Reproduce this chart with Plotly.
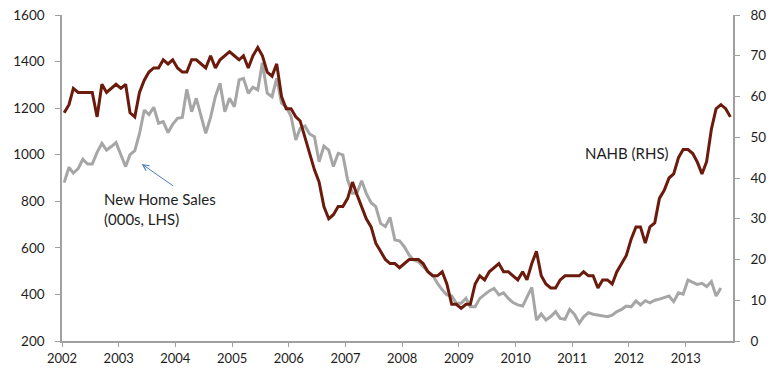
import pandas as pd
import plotly.graph_objects as go

# NAHB housing market index (right axis), monthly Jan 2002 - Oct 2013
nahb = [
    56, 58, 62, 61, 61, 61, 61, 55, 63, 61, 62, 63,   # 2002
    62, 63, 56, 55, 61, 64, 66, 67, 67, 69, 68, 69,   # 2003
    67, 66, 66, 69, 69, 68, 67, 70, 67, 69, 70, 71,   # 2004
    70, 69, 70, 67, 70, 72, 70, 66, 65, 68, 60, 57,   # 2005
    57, 55, 54, 50, 46, 42, 39, 33, 30, 31, 33, 33,   # 2006
    35, 39, 36, 33, 30, 28, 24, 22, 20, 19, 19, 18,   # 2007
    19, 20, 20, 20, 19, 17, 16, 16, 17, 14, 9, 9,     # 2008
    8, 9, 9, 14, 16, 15, 17, 18, 19, 17, 17, 16,      # 2009
    15, 17, 15, 19, 22, 16, 14, 13, 13, 15, 16, 16,   # 2010
    16, 16, 17, 16, 16, 13, 15, 15, 14, 17, 19, 21,   # 2011
    25, 28, 28, 24, 28, 29, 35, 37, 40, 41, 45, 47,   # 2012
    47, 46, 44, 41, 44, 52, 57, 58, 57, 55,           # 2013
]

# New home sales, thousands (left axis), monthly Jan 2002 - Aug 2013
new_home_sales = [
    880, 946, 921, 940, 980, 960, 960, 1010, 1049, 1020, 1035, 1052,       # 2002
    1000, 949, 1000, 1017, 1090, 1192, 1172, 1204, 1135, 1142, 1095, 1130,  # 2003
    1156, 1160, 1281, 1185, 1242, 1165, 1092, 1160, 1250, 1307, 1185, 1242, # 2004
    1206, 1321, 1328, 1264, 1290, 1278, 1395, 1264, 1249, 1328, 1221, 1206, # 2005
    1165, 1063, 1113, 1123, 1089, 1077, 970, 1037, 1020, 949, 1006, 999,    # 2006
    891, 834, 834, 888, 834, 794, 777, 705, 691, 731, 634, 630,             # 2007
    605, 569, 548, 541, 519, 498, 483, 448, 420, 398, 394, 362,             # 2008
    362, 383, 347, 347, 383, 400, 415, 426, 398, 407, 383, 365,             # 2009
    355, 350, 385, 430, 290, 316, 290, 305, 326, 297, 293, 336,             # 2010
    314, 277, 304, 322, 315, 312, 308, 304, 311, 326, 336, 350,             # 2011
    347, 372, 355, 373, 364, 375, 380, 386, 393, 369, 407, 401,             # 2012
    462, 452, 443, 448, 434, 455, 393, 428,                                 # 2013
]

years = list(range(2002, 2014))

# each monthly value sits in the middle of its month
months_nahb = pd.date_range("2002-01-01", periods=len(nahb), freq="MS") + pd.Timedelta(days=14)
months_sales = pd.date_range("2002-01-01", periods=len(new_home_sales), freq="MS") + pd.Timedelta(days=14)

RED = "#6B1A0C"
GREY = "#A6A6A6"
AXIS = "#A0A0A0"
TEXT = "#1E1E1E"
FONT = "Lato"

fig = go.Figure()
fig.add_trace(go.Scatter(
    x=months_sales, y=new_home_sales, mode="lines",
    line=dict(color=GREY, width=3), name="New Home Sales",
    yaxis="y",
))
fig.add_trace(go.Scatter(
    x=months_nahb, y=nahb, mode="lines",
    line=dict(color=RED, width=3), name="NAHB",
    yaxis="y2",
))

fig.update_layout(
    width=777, height=368,
    margin=dict(l=62, r=44, t=15, b=27, autoexpand=False),
    paper_bgcolor="white", plot_bgcolor="white",
    showlegend=False,
    font=dict(family=FONT, size=13, color=TEXT),
    xaxis=dict(
        type="date", automargin=False,
        range=["2002-01-01", "2013-11-01"],
        tickvals=[f"{y}-01-01" for y in years],
        ticktext=[str(y) for y in years],
        ticks="outside", ticklen=4, tickcolor=AXIS,
        showline=True, linecolor=AXIS, linewidth=1.5,
        showgrid=False, zeroline=False,
        tickfont=dict(family=FONT, size=13, color=TEXT),
        ticklabelstandoff=1,
    ),
    yaxis=dict(
        range=[200, 1600], dtick=200, automargin=False,
        ticks="outside", ticklen=5, tickcolor=AXIS,
        showline=True, linecolor=AXIS, linewidth=1.5,
        showgrid=False, zeroline=False,
        tickfont=dict(family=FONT, size=13.5, color=TEXT),
        ticklabelstandoff=8,
    ),
    yaxis2=dict(
        range=[0, 80], dtick=10, automargin=False,
        overlaying="y", side="right",
        ticks="outside", ticklen=5, tickcolor=AXIS,
        showline=True, linecolor=AXIS, linewidth=1.5,
        showgrid=False, zeroline=False,
        tickfont=dict(family=FONT, size=13.5, color=TEXT),
        ticklabelstandoff=8,
    ),
)

# series labels
fig.add_annotation(
    xref="paper", yref="paper", x=0.0596, y=0.47,
    xanchor="left", yanchor="top", align="left",
    text="New Home Sales<br>(000s, LHS)", showarrow=False,
    font=dict(family=FONT, size=15, color=TEXT),
)
fig.add_annotation(
    xref="paper", yref="paper", x=0.7765, y=0.5767,
    xanchor="left", yanchor="middle",
    text="NAHB (RHS)", showarrow=False,
    font=dict(family=FONT, size=15, color=TEXT),
)
# pointer from the sales label to its line
fig.add_annotation(
    xref="paper", yref="paper", x=0.1188, y=0.543,
    ax=33, ay=23, axref="pixel", ayref="pixel",
    text="", showarrow=True,
    arrowhead=5, arrowsize=1.2, arrowwidth=1, arrowcolor="#4A7EBB",
    standoff=0,
)

fig.write_html("out.html")
